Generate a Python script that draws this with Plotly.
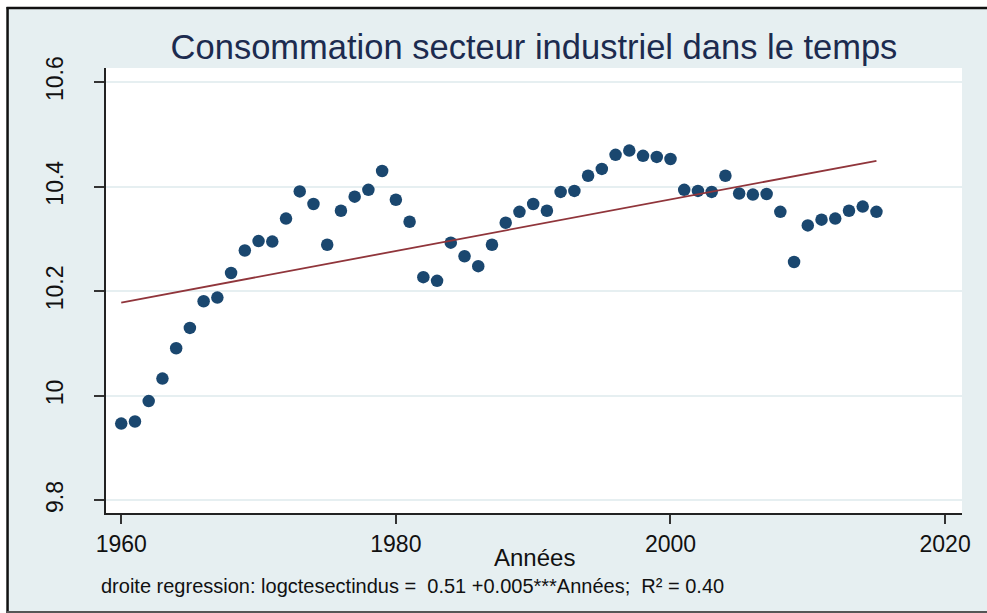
import numpy as np
import plotly.graph_objects as go

years = list(range(1960, 2016))
values = [9.947, 9.951, 9.990, 10.033, 10.091, 10.130, 10.181, 10.188, 10.235, 10.278,
          10.296, 10.295, 10.339, 10.391, 10.367, 10.289, 10.354, 10.381, 10.394, 10.430,
          10.375, 10.333, 10.227, 10.220, 10.293, 10.267, 10.248, 10.289, 10.331, 10.352,
          10.367, 10.354, 10.390, 10.392, 10.421, 10.434, 10.461, 10.469, 10.459, 10.457,
          10.453, 10.394, 10.392, 10.390, 10.421, 10.387, 10.385, 10.386, 10.352, 10.256,
          10.326, 10.337, 10.339, 10.354, 10.362, 10.352]
x_ticks = [1960, 1980, 2000, 2020]
y_ticks = [9.8, 10.0, 10.2, 10.4, 10.6]
y_tick_labels = ["9.8", "10", "10.2", "10.4", "10.6"]

title_text = "Consommation secteur industriel dans le temps"
x_title = "Années"
note_text = "droite regression: logctesectindus =  0.51 +0.005***Années;  R² = 0.40"

x = np.array(years, dtype=float)
y = np.array(values)
slope, intercept = np.polyfit(x, y, 1)
fit = slope * x + intercept

BG = "#e6eff1"
NAVY = "#1a476f"
MAROON = "#90353b"
FONT = "Liberation Sans, Arial, sans-serif"

W, H = 987, 613
L, R, T, B = 105.5, 25, 68, 100
PW, PH = W - L - R, H - T - B

def px_x(px):
    return (px - L) / PW

def px_y(py):
    return (H - B - py) / PH

fig = go.Figure()
fig.add_trace(go.Scatter(x=years, y=values, mode="markers",
                         marker=dict(color=NAVY, size=12.5, line=dict(width=0)),
                         showlegend=False))
fig.add_trace(go.Scatter(x=years, y=fit, mode="lines",
                         line=dict(color=MAROON, width=1.8),
                         showlegend=False))

fig.update_layout(
    width=W, height=H,
    paper_bgcolor=BG, plot_bgcolor="white",
    margin=dict(l=L, r=R, t=T, b=B, autoexpand=False),
    font=dict(family=FONT, color="#111111"),
    title=dict(text=title_text, x=0.5, xref="paper", xanchor="center",
               y=1 - 47 / H, yanchor="middle", automargin=False,
               font=dict(size=34.5, color="#1c2b4f", family=FONT)),
    xaxis=dict(range=[1958.89, 2021.23], tickvals=x_ticks, ticks="outside",
               ticklen=9, tickwidth=1.5, tickcolor="#333333",
               showline=True, linecolor="#222222", linewidth=2,
               showgrid=False, zeroline=False, automargin=False,
               tickfont=dict(size=23, color="#111111")),
    yaxis=dict(range=[9.776, 10.627], tickvals=y_ticks, ticktext=y_tick_labels,
               ticks="outside", ticklen=10, tickwidth=1.5, tickcolor="#333333",
               showline=True, linecolor="#222222", linewidth=2,
               showgrid=True, gridcolor=BG, gridwidth=1.5, zeroline=False,
               automargin=False, ticklabelstandoff=22,
               tickangle=-90, tickfont=dict(size=23, color="#111111")),
)

fig.add_annotation(text=x_title, xref="paper", yref="paper",
                   x=0.5, y=px_y(557), xanchor="center", yanchor="middle",
                   showarrow=False, font=dict(size=24, color="#111111", family=FONT))

fig.add_annotation(text=note_text, xref="paper", yref="paper",
                   x=px_x(98), y=px_y(586),
                   xanchor="left", yanchor="middle", showarrow=False,
                   font=dict(size=20, color="#111111", family=FONT))

# white margin outside the outer frame (top and left)
fig.add_shape(type="rect", xref="paper", yref="paper",
              x0=px_x(-5), x1=px_x(W + 5), y0=px_y(7), y1=px_y(-5),
              fillcolor="white", line=dict(width=0), layer="above")
fig.add_shape(type="rect", xref="paper", yref="paper",
              x0=px_x(-5), x1=px_x(6), y0=px_y(H + 5), y1=px_y(-5),
              fillcolor="white", line=dict(width=0), layer="above")
# outer frame lines
fig.add_shape(type="line", xref="paper", yref="paper",
              x0=px_x(6), x1=px_x(W + 5), y0=px_y(8), y1=px_y(8),
              line=dict(color="#111111", width=2.5), layer="above")
fig.add_shape(type="line", xref="paper", yref="paper",
              x0=px_x(7), x1=px_x(7), y0=px_y(7), y1=px_y(H + 5),
              line=dict(color="#111111", width=2.5), layer="above")
fig.add_shape(type="line", xref="paper", yref="paper",
              x0=px_x(6), x1=px_x(W + 5), y0=px_y(612), y1=px_y(612),
              line=dict(color="#555555", width=2), layer="above")

fig.write_html("out.html",
               config={"displayModeBar": False},
               post_script="document.body.style.margin='0';"
                           "document.body.style.overflow='hidden';"
                           "document.documentElement.style.overflow='hidden';")
